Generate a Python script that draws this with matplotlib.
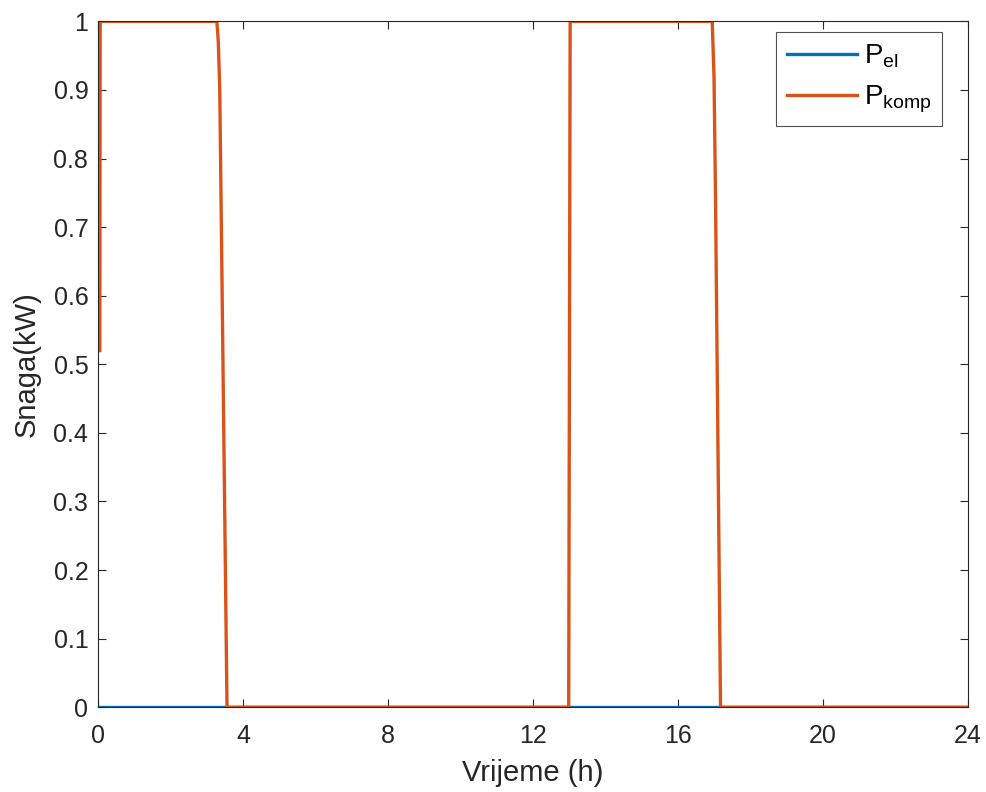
import numpy as np
import matplotlib.pyplot as plt

plt.rcParams['font.family'] = ['Liberation Sans', 'DejaVu Sans']

# ===============================
# DATA
# ===============================
t_el = [0, 24]
p_el = [0, 0]

t_komp = [0.05, 0.06, 3.28, 3.32, 3.36, 3.56, 12.99, 13.03, 16.95, 17.0, 17.04, 17.18, 24.0]
p_komp = [0.52, 1.0, 1.0, 0.97, 0.9, 0.0, 0.0, 1.0, 1.0, 0.92, 0.75, 0.0, 0.0]

x_ticks = [0, 4, 8, 12, 16, 20, 24]
y_ticks = [0, 0.1, 0.2, 0.3, 0.4, 0.5, 0.6, 0.7, 0.8, 0.9, 1]
y_labels = ['0', '0.1', '0.2', '0.3', '0.4', '0.5', '0.6', '0.7', '0.8', '0.9', '1']

# ===============================
# PLOT
# ===============================
txt = '#262626'
fig = plt.figure(figsize=(9.86, 7.92), dpi=100)
ax = fig.add_axes([0.0994, 0.107, 0.882, 0.866])

ax.plot(t_el, p_el, color='#0072BD', linewidth=2.4, label=r'$\mathregular{P_{el}}$')
ax.plot(t_komp, p_komp, color='#D95319', linewidth=2.4, label=r'$\mathregular{P_{komp}}$')

ax.set_xlim(0, 24)
ax.set_ylim(0, 1)
ax.set_xticks(x_ticks)
ax.set_yticks(y_ticks)
ax.set_yticklabels(y_labels)
ax.tick_params(direction='in', top=True, right=True, length=6, width=0.8,
               colors=txt, labelsize=18)
ax.tick_params(axis='x', pad=12)
ax.tick_params(axis='y', pad=7)
for s in ax.spines.values():
    s.set_color(txt)
    s.set_linewidth(0.8)

ax.set_xlabel('Vrijeme (h)', fontsize=21, color=txt, labelpad=8)
ax.set_ylabel('Snaga(kW)', fontsize=21, color=txt, labelpad=9)

leg = ax.legend(loc='upper right', bbox_to_anchor=(0.971, 0.984), fontsize=20,
                frameon=True, fancybox=False, edgecolor=txt, handlelength=2.55,
                borderaxespad=0, borderpad=0.38, labelspacing=0.48,
                handletextpad=0.25)
leg.get_frame().set_linewidth(0.8)

fig.savefig('out.png', dpi=100)
